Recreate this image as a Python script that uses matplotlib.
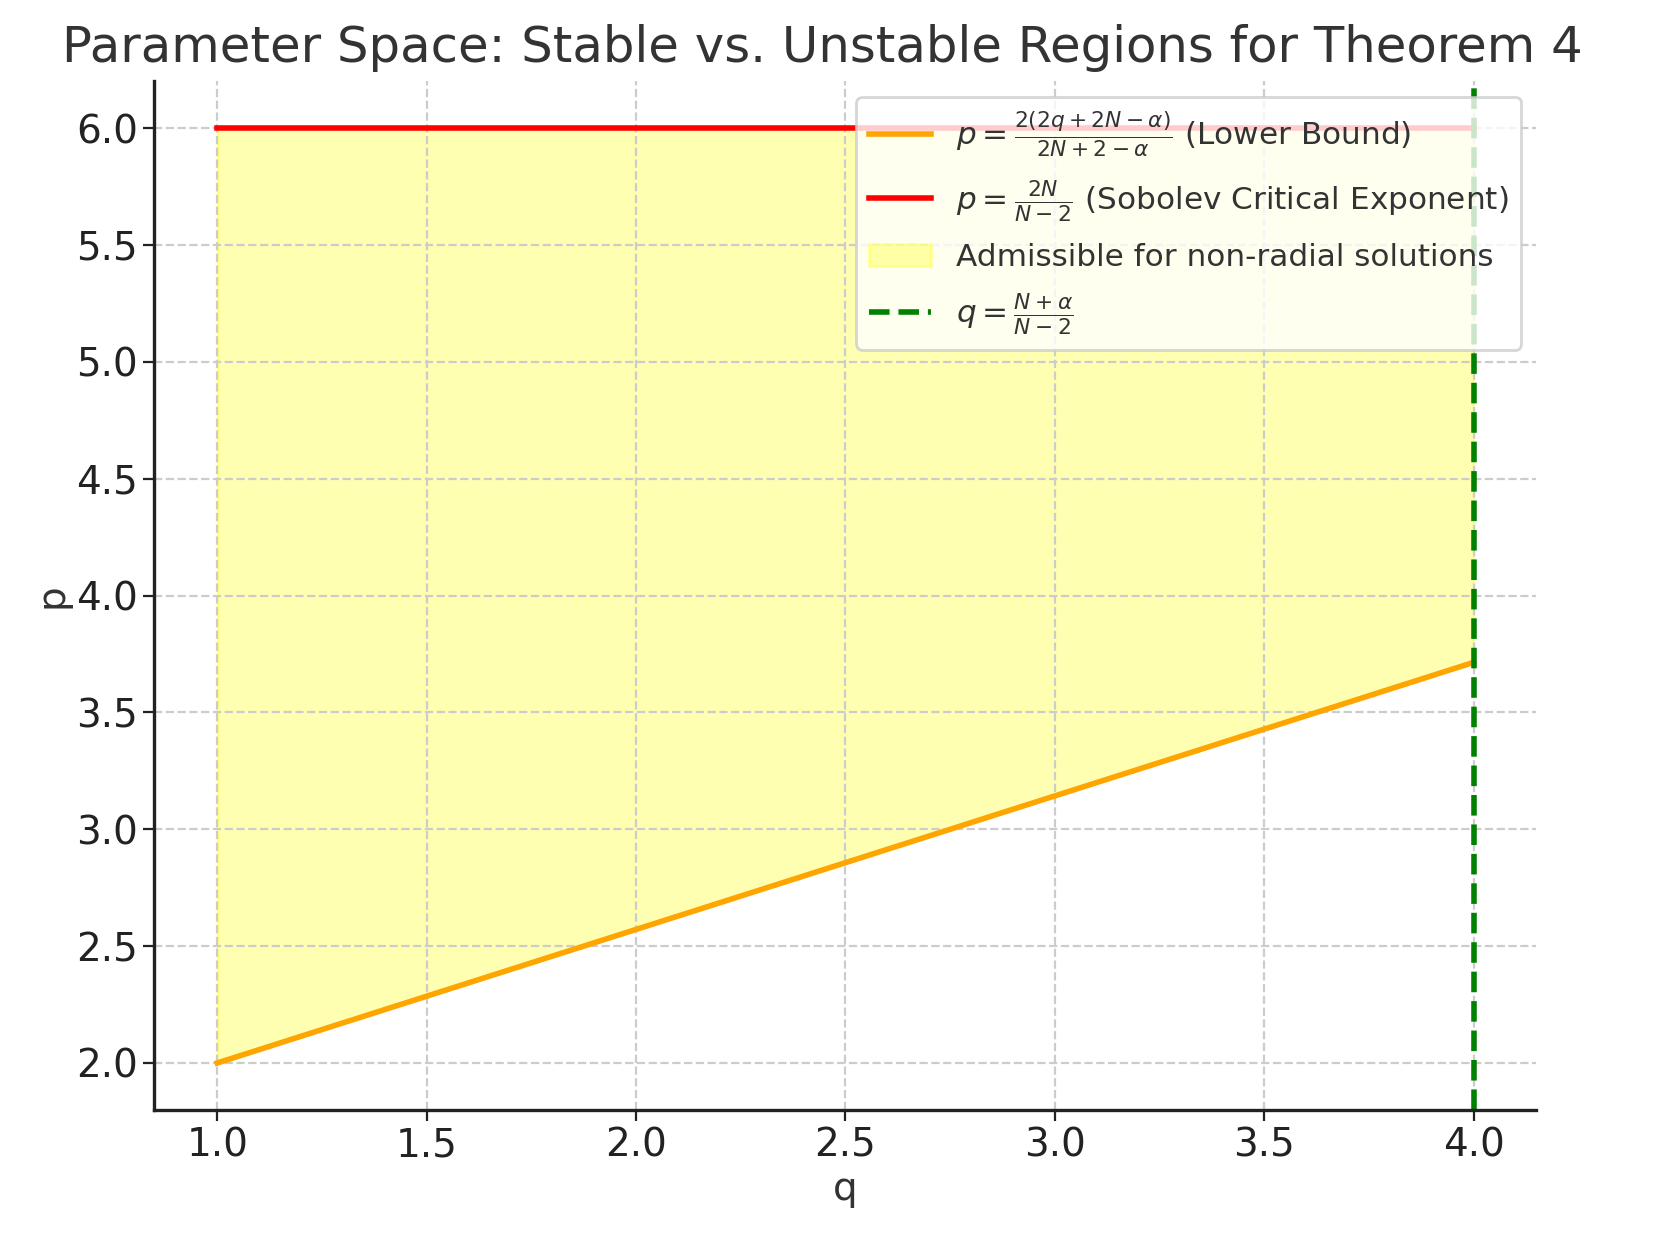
import matplotlib
matplotlib.use("Agg")
import matplotlib.pyplot as plt
import numpy as np

# values (N=3, alpha=1)
q_vals = np.array([1.0, 4.0])
p_lower = np.array([2.0, 3.714])
p_sobolev = np.array([6.0, 6.0])
q_crit = 4.0

plt.rcParams["text.color"] = "#333333"
plt.rcParams["axes.labelcolor"] = "#333333"
plt.rcParams["xtick.color"] = "#222222"
plt.rcParams["ytick.color"] = "#222222"

fig, ax = plt.subplots(figsize=(8.305, 6.165), dpi=200)

ax.plot(q_vals, p_lower, color="orange", lw=2,
        label=r"$p = \frac{2(2q + 2N - \alpha)}{2N + 2 - \alpha}$ (Lower Bound)")
ax.plot(q_vals, p_sobolev, color="red", lw=2,
        label=r"$p = \frac{2N}{N - 2}$ (Sobolev Critical Exponent)")
ax.fill_between(q_vals, p_lower, p_sobolev, color="yellow", alpha=0.3,
                label="Admissible for non-radial solutions")
ax.axvline(q_crit, color="green", ls="--", lw=2,
           label=r"$q = \frac{N + \alpha}{N - 2}$")

ax.set_title("Parameter Space: Stable vs. Unstable Regions for Theorem 4",
             fontsize=17.9, pad=7, x=0.483)
ax.set_xlabel("q", fontsize=14, labelpad=2)
ax.set_ylabel("p", fontsize=14, labelpad=2)
ax.tick_params(labelsize=14, direction="out", length=4, pad=2)
ax.grid(True, ls="--", color="#cccccc", lw=0.8)
for s in ["top", "right"]:
    ax.spines[s].set_visible(False)
for s in ["left", "bottom"]:
    ax.spines[s].set_color("#222222")
    ax.spines[s].set_linewidth(1.2)

leg = ax.legend(fontsize=11.2, loc="upper right", framealpha=0.8, labelspacing=0.62)
leg.get_frame().set_edgecolor("#cccccc")

fig.subplots_adjust(left=0.093, right=0.925, top=0.934, bottom=0.1)
fig.savefig("out.png", dpi=200)
